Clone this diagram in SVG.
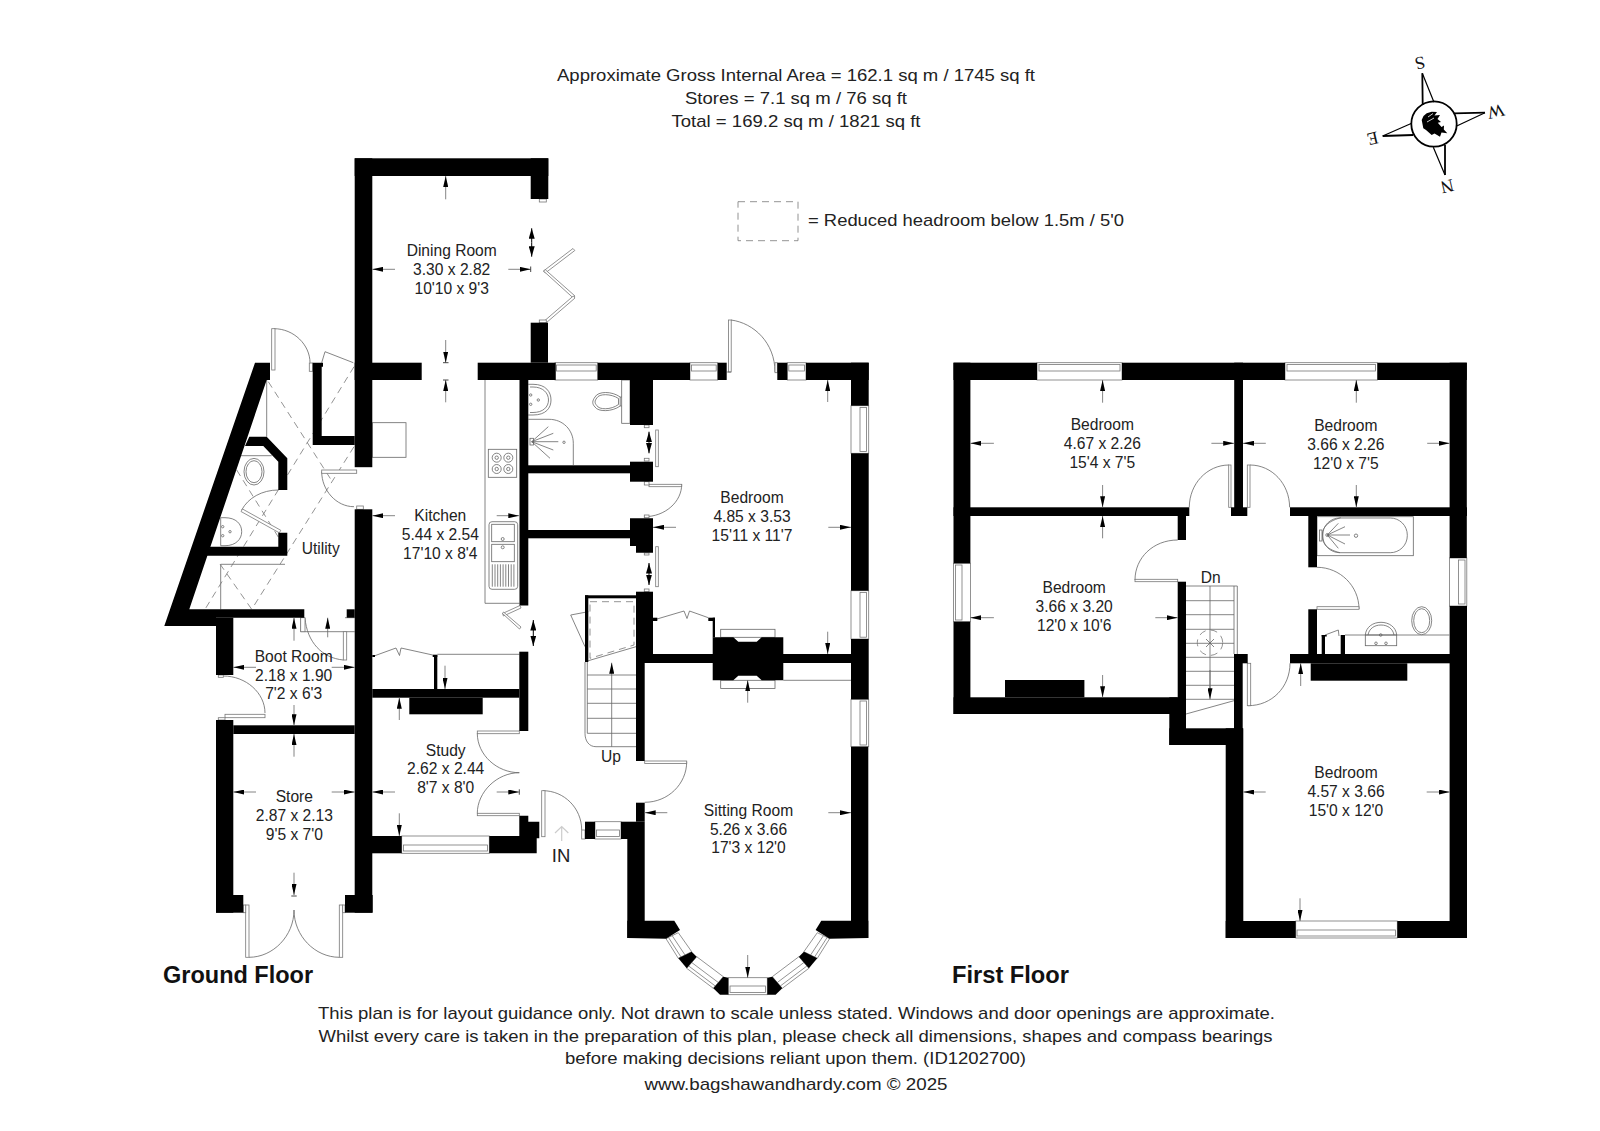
<svg xmlns="http://www.w3.org/2000/svg" width="1600" height="1131" viewBox="0 0 1600 1131">
<style>
text{font-family:"Liberation Sans",Arial,sans-serif;fill:#222}
.r{font-size:15.6px;text-anchor:middle}
.h{font-size:17px;text-anchor:middle}
.b{font-size:23.5px;font-weight:bold;fill:#111}
.c{font-family:"Liberation Serif",serif;font-size:18px;text-anchor:middle;fill:#111}
.w rect,.w polygon{fill:#000}
.t{fill:none;stroke:#666;stroke-width:.8}
.win rect,.win polygon{fill:#fff;stroke:#777;stroke-width:.8}
.win line{stroke:#777;stroke-width:.8}
.leaf{fill:#fff;stroke:#777;stroke-width:.8}
.d{fill:none;stroke:#777;stroke-width:.8;stroke-dasharray:7 5}
.dim line{stroke:#666;stroke-width:.8;marker-end:url(#a)}
.dbl line{stroke:#000;stroke-width:1;marker-end:url(#b)}
</style>
<defs>
<marker id="a" markerUnits="userSpaceOnUse" markerWidth="11" markerHeight="5" refX="11" refY="2.5" orient="auto"><path d="M0,0L11,2.5L0,5z" fill="#000"/></marker>
<marker id="b" markerUnits="userSpaceOnUse" markerWidth="10.5" markerHeight="6" refX="10.5" refY="3" orient="auto"><path d="M0,0L10.5,3L0,6z" fill="#000"/></marker>
</defs>

<g id="heading">
<text class="h" x="796" y="81" textLength="478" lengthAdjust="spacingAndGlyphs">Approximate Gross Internal Area = 162.1 sq m / 1745 sq ft</text>
<text class="h" x="796" y="104" textLength="222" lengthAdjust="spacingAndGlyphs">Stores = 7.1 sq m / 76 sq ft</text>
<text class="h" x="796" y="126.7" textLength="249" lengthAdjust="spacingAndGlyphs">Total = 169.2 sq m / 1821 sq ft</text>
</g>

<g id="legend">
<rect class="d" x="738" y="201.7" width="60" height="39" stroke-dasharray="6 4"/>
<text x="808" y="226" font-size="17" textLength="316" lengthAdjust="spacingAndGlyphs">= Reduced headroom below 1.5m / 5'0</text>
</g>

<g id="compass">
<circle cx="1434" cy="124" r="22.7" fill="#fff" stroke="#000" stroke-width="1.8"/>
<path d="M1431.7,111.7L1437,112L1434.5,115.5L1440,115L1437.5,119L1441,122L1437.8,122.8L1441.5,127L1444,125.5L1443.8,129.5L1447.3,133.3L1441.5,132.5L1440,136.7L1434.5,133.5L1431.7,135L1426,130L1423.3,128.3L1421.7,120L1423.5,116L1426.7,113.3z" fill="#000"/>
<path d="M1428,117L1433,113.5M1427,122L1434,118" stroke="#fff" stroke-width=".8" fill="none"/>
<g fill="none" stroke="#000">
<path stroke-width="1.8" d="M1422.3,73.3L1422.7,105M1485,112.7L1454,113.3M1445,175L1445,145M1382.7,136L1413.3,135"/>
<path stroke-width="1.2" d="M1422.3,73.3L1434,102.3M1485,112.7L1456.7,126M1445,175L1433.3,147.3M1382.7,136L1411.7,123.3"/>
</g>
<text class="c" transform="translate(1420,63.3) rotate(167)" dy=".35em">S</text>
<text class="c" transform="translate(1496,111.7) rotate(167)" dy=".35em">W</text>
<text class="c" transform="translate(1447.3,186.7) rotate(167)" dy=".35em">N</text>
<text class="c" transform="translate(1372.7,139) rotate(167)" dy=".35em">E</text>
</g>

<g id="ground-floor">
<g id="gf-lines" class="t">
<path d="M266.7,380V436.7"/>
<rect x="372.3" y="422.7" width="33.7" height="34.6"/>
<path d="M485,380V603.3H519.5"/>
<path d="M220.7,609.3V564.3H285"/>
<path d="M300.7,617.7V631.7H354.7M345,617.7H354.7"/>
<path d="M437.3,654.3H519.5"/>
<path d="M783.3,680.3H851"/>
<rect x="720.7" y="629.3" width="54.3" height="8"/>
<rect x="720.7" y="680.3" width="54.3" height="8.3"/>
</g>

<g id="gf-fixtures" class="t">
<rect x="488.3" y="449.3" width="28.4" height="28"/>
<circle cx="496.7" cy="457.7" r="4.5"/><circle cx="508.3" cy="457.7" r="4.5"/><circle cx="496.7" cy="469" r="4.5"/><circle cx="508.3" cy="469" r="4.5"/>
<circle cx="496.7" cy="457.7" r="1.7"/><circle cx="508.3" cy="457.7" r="1.7"/><circle cx="496.7" cy="469" r="1.7"/><circle cx="508.3" cy="469" r="1.7"/>
<rect x="489" y="521.7" width="28.7" height="67.6" rx="3"/>
<rect x="491.7" y="524.3" width="22.6" height="17.4"/>
<rect x="491.7" y="544.3" width="22.6" height="17.4"/>
<circle cx="502.7" cy="539" r="1.5"/><circle cx="502.7" cy="547.3" r="1.5"/>
<path d="M492.3,564.3V586.7M495,564.3V586.7M497.7,564.3V586.7M500.4,564.3V586.7M503.1,564.3V586.7M505.8,564.3V586.7M508.5,564.3V586.7M511.2,564.3V586.7M513.9,564.3V586.7"/>
<path d="M528.3,384.3H533C546,384.3 551,392 551,400C551,408 546,415 533,415H528.3"/>
<path d="M530,387H533C543,387 548.5,393 548.5,400C548.5,407 543,412.5 533,412.5H530"/>
<circle cx="530.7" cy="395" r="1.2"/><circle cx="530.7" cy="404.3" r="1.2"/><circle cx="538.3" cy="400" r="1.2"/>
<path d="M528.3,419.3H549C563,419.3 573.3,430 573.3,443.3V465"/>
<rect x="530" y="438.3" width="3.4" height="6.7"/>
<path d="M531.7,441.7L548.3,426.7M531.7,441.7L553.3,433.3M531.7,441.7L558.3,441.7M531.7,441.7L553.3,450M531.7,441.7L550,458.3"/>
<circle cx="564" cy="442.3" r="1.2"/>
<path d="M620.2,397C612,391 598,391 595,397C592,401 592,404 595,407C598,412 612,412 620.2,406z"/>
<path d="M618.5,398.5C611,393.5 599,393.5 596.8,398C594.5,401 594.5,403 596.8,405.5C599,410 611,410 618.5,404.5z"/>
<path d="M620.2,397H621.7M620.2,406H621.7"/>
<rect x="621.7" y="380" width="8.3" height="43.3"/>
<ellipse cx="254" cy="471.7" rx="10" ry="13.3"/>
<ellipse cx="254" cy="471.7" rx="8" ry="11"/>
<path d="M240,455.7H271.7"/>
<path d="M220.7,517.7H225C236,517.7 241.7,524 241.7,531.7C241.7,539 236,545.7 225,545.7H220.7V517.7"/>
<circle cx="222.7" cy="526.7" r="1.2"/><circle cx="222.7" cy="535.7" r="1.2"/><circle cx="230" cy="531.7" r="1.2"/>
<path d="M587.3,662V733.3H636M585,662V733.3C585,741 589,746.7 596,746.7H636M587.3,675H636M587.3,689H636M587.3,703.3H636M587.3,718.3H636"/>
<path d="M585,661.7L636,646.7M588.3,611.7L570.7,615L585,646.7"/>
<path d="M374,656L396,648L399.5,655.5L401,648L432.7,655"/>
<path d="M657,619L684,611L687,618.5L689.5,611L708.3,617.7"/>
</g>

<g id="gf-dashed">
<path class="d" d="M268.3,381.7L333,482.7M354,366.7L205,609.3M354,446.7L251.7,609.3M236.7,470L278.3,537M220,564L251.7,609.3"/>
<path class="d" d="M590,601.7H634V645L590,658.3z"/>
</g>

<g id="gf-doors">
<path class="t" d="M274,328.7C294,328.7 310,345 310,362.7"/>
<path class="t" d="M325,351.7L321.7,362.7M325,351.7L353.3,362.7"/>
<path class="t" d="M321.7,471.7C321.7,490 336,506.7 354,506.7"/>
<path class="t" d="M278.3,490C262,490 248,498 241.7,510"/>
<path class="t" d="M305,618C307,642 322,658 343.3,660"/>
<path class="t" d="M223.3,676C246,676 265,693 265,713"/>
<path class="t" d="M249,957.3C273,957.3 294,936 294,910C294,936 315,957.3 339.3,957.3"/>
<path class="t" d="M477.3,733.3C477.3,755 497,772.7 519.3,772.7C497,772.7 477.3,792 477.3,813.3"/>
<path class="t" d="M543,790.7C564,790.7 581.7,808 581.7,830"/>
<path class="t" d="M686.7,761.7C686.7,784 668,802.3 644.7,802.3"/>
<path class="t" d="M681.7,484.3C681.7,502 665,516.7 644.3,516.7"/>
<rect class="leaf" x="271.7" y="328.7" width="3.3" height="41.3"/>
<rect class="leaf" x="309.3" y="363" width="3.4" height="8.3"/>
<rect class="leaf" x="321.7" y="470" width="35" height="3.3"/>
<rect class="leaf" x="356.7" y="506" width="6.6" height="3.3"/>
<polygon class="leaf" points="241,511.5 242.5,509 280.8,530.3 279.3,532.8"/>
<rect class="leaf" x="300.7" y="617.7" width="4.3" height="14"/>
<rect class="leaf" x="343.3" y="631.7" width="3.4" height="28.3"/>
<rect class="leaf" x="218.3" y="675" width="5" height="2.3"/>
<rect class="leaf" x="225" y="714.3" width="40" height="3.4"/>
<rect class="leaf" x="218.3" y="717.7" width="6.7" height="2.3"/>
<rect class="leaf" x="245.7" y="905" width="3.3" height="52.3"/>
<rect class="leaf" x="243.3" y="905" width="2.4" height="7.7"/>
<rect class="leaf" x="339.3" y="905" width="3.4" height="52.3"/>
<rect class="leaf" x="342.7" y="905" width="2.3" height="7.7"/>
<rect class="leaf" x="477.3" y="731" width="42" height="2.7"/>
<rect class="leaf" x="477.3" y="813.3" width="42" height="2.4"/>
<rect class="leaf" x="541.7" y="790.7" width="3.3" height="46"/>
<rect class="leaf" x="581.7" y="830" width="3.3" height="9"/>
<rect class="leaf" x="644.7" y="761" width="42" height="2.4"/>
<rect class="leaf" x="649" y="484.3" width="32.7" height="2.4"/>
<rect class="leaf" x="655.7" y="430" width="2.6" height="36.7"/>
<rect class="leaf" x="655.7" y="546.7" width="2.6" height="40"/>
<rect class="leaf" x="644.3" y="425" width="4.7" height="2.7"/>
<rect class="leaf" x="644.3" y="458.3" width="4.7" height="2.7"/>
<rect class="leaf" x="644.3" y="481.7" width="4.7" height="3.3"/>
<rect class="leaf" x="644.3" y="515" width="4.7" height="2.7"/>
<rect class="leaf" x="644.3" y="553" width="4.7" height="2"/>
<rect class="leaf" x="644.3" y="589" width="4.7" height="2.7"/>
<rect class="leaf" x="728.5" y="320" width="2.7" height="52"/>
<path class="t" d="M731,320C754,323 775,343 775,372M726.7,372H731"/>
<rect class="leaf" x="775" y="362.7" width="2.3" height="10"/>
<polygon class="leaf" points="573,248.5 574.8,250.5 545.3,273 543.5,271"/>
<polygon class="leaf" points="543.5,271 545.3,269.7 575,296 573.3,298"/>
<polygon class="leaf" points="573.3,296 575,298 546,323 544.3,321"/>
<rect class="leaf" x="539.3" y="199" width="7" height="3"/>
<rect class="leaf" x="539.3" y="320" width="7" height="2.7"/>
<polygon class="leaf" points="520,605.5 521,608 503.5,616 502.5,613.5"/>
<polygon class="leaf" points="502.5,613.5 503.5,612 521,627 519.5,629"/>
</g>

<g id="gf-windows" class="win">
<rect x="555" y="362.7" width="42.7" height="17.3"/><rect x="556.5" y="365" width="39.7" height="6"/>
<rect x="690" y="362.7" width="27.7" height="17.3"/><rect x="691.5" y="365" width="24.7" height="6"/>
<rect x="787.3" y="362.7" width="18.7" height="17.3"/><rect x="788.8" y="365" width="15.7" height="6"/>
<rect x="851" y="405.7" width="17.7" height="47.6"/><rect x="860" y="407.5" width="6.5" height="44"/>
<rect x="851" y="590.7" width="17.7" height="48.3"/><rect x="860" y="592.5" width="6.5" height="44.7"/>
<rect x="851" y="699.3" width="17.7" height="47.4"/><rect x="860" y="701" width="6.5" height="44"/>
<rect x="401.7" y="836" width="87.6" height="17.3"/><rect x="403.5" y="845" width="84" height="6"/>
<rect x="595" y="821.7" width="26" height="17.3"/><rect x="596.5" y="830" width="23" height="6.5"/>
<rect x="728.3" y="977.7" width="39" height="17"/><rect x="730" y="986" width="35.6" height="6.5"/>
<g id="bay-windows-left">
<polygon points="666,938.7 678.3,932.7 691.7,951.7 678.3,958.3"/>
<line x1="668.5" y1="937.5" x2="681" y2="957"/><line x1="672.2" y1="935.7" x2="685" y2="955"/>
<polygon points="686.7,968.3 696.7,956.7 723.3,976.7 713.3,988.3"/>
<line x1="688.7" y1="966" x2="715.3" y2="986"/><line x1="691.7" y1="962.5" x2="718.3" y2="982.5"/>
</g>
<g id="bay-windows-right" transform="matrix(-1 0 0 1 1495.6 0)">
<polygon points="666,938.7 678.3,932.7 691.7,951.7 678.3,958.3"/>
<line x1="668.5" y1="937.5" x2="681" y2="957"/><line x1="672.2" y1="935.7" x2="685" y2="955"/>
<polygon points="686.7,968.3 696.7,956.7 723.3,976.7 713.3,988.3"/>
<line x1="688.7" y1="966" x2="715.3" y2="986"/><line x1="691.7" y1="962.5" x2="718.3" y2="982.5"/>
</g>
</g>

<g id="gf-walls" class="w">
<rect x="354.7" y="158.3" width="17.6" height="308.9"/>
<rect x="354.7" y="158.3" width="193.6" height="17.7"/>
<rect x="530.7" y="158.3" width="17.6" height="40.7"/>
<rect x="530.7" y="322.7" width="17.3" height="40"/>
<rect x="354.7" y="362.7" width="67" height="17.3"/>
<rect x="477.7" y="362.7" width="78" height="17.3"/>
<rect x="597.7" y="362.7" width="92.3" height="17.3"/>
<rect x="717.7" y="362.7" width="9" height="17.3"/>
<rect x="777.3" y="362.7" width="10" height="17.3"/>
<rect x="806" y="362.7" width="62.7" height="17.3"/>
<rect x="851" y="362.7" width="17.7" height="43"/>
<rect x="851" y="453.3" width="17.7" height="137.4"/>
<rect x="851" y="639" width="17.7" height="60.3"/>
<rect x="851" y="746.7" width="17.3" height="191.3"/>
<rect x="519.5" y="380" width="8.8" height="225.5"/>
<rect x="630" y="380" width="23" height="45"/>
<rect x="528" y="465.3" width="102" height="8"/>
<rect x="630" y="461.7" width="23" height="20"/>
<rect x="528" y="530" width="102" height="8.3"/>
<polygon points="630,518.3 653,518.3 653,552.7 636,552.7 636,546 630,546"/>
<rect x="636" y="591.7" width="17" height="71.3"/>
<rect x="636" y="663" width="8.7" height="98"/>
<rect x="636" y="654" width="215" height="9"/>
<polygon points="712.7,637.3 733.3,637.3 738.3,641.7 756.7,641.7 761.7,637.3 783.3,637.3 783.3,680.3 761.7,680.3 756.7,675.7 738.3,675.7 733.3,680.3 712.7,680.3"/>
<rect x="653" y="617.7" width="4.3" height="3.3"/>
<rect x="708.3" y="617.7" width="6.7" height="3.3"/>
<rect x="712.7" y="617.7" width="2.3" height="19.7"/>
<rect x="354.7" y="509.3" width="17.6" height="403.4"/>
<rect x="636" y="802.7" width="8.7" height="19"/>
<rect x="621" y="821.7" width="23.7" height="17.3"/>
<rect x="627.3" y="839" width="17.4" height="99"/>
<rect x="585" y="821.7" width="10" height="17.3"/>
<polygon points="644.7,920.7 674.3,920.7 680,930 666,938.7 627.3,938 627.3,920.7"/>
<polygon points="851,920.7 821.3,920.7 815.6,930 829.6,938.7 868.3,938 868.3,920.7"/>
<polygon points="678.3,958.3 691.7,951.7 696.7,956.7 686.7,968.3"/>
<polygon points="817.3,958.3 803.9,951.7 798.9,956.7 808.9,968.3"/>
<polygon points="723.3,976.7 728.3,977.7 728.3,994.7 720,994.7 713.3,988.3"/>
<polygon points="772.3,976.7 767.3,977.7 767.3,994.7 775.6,994.7 782.3,988.3"/>
<rect x="519.3" y="651.7" width="9" height="79.3"/>
<rect x="372.3" y="689" width="147" height="8.7"/>
<rect x="409.3" y="697.7" width="73.4" height="16.6"/>
<rect x="434" y="655" width="3.3" height="34"/>
<rect x="372.3" y="655" width="2.7" height="2"/>
<rect x="432.7" y="654.7" width="4.6" height="2.3"/>
<rect x="356.7" y="836" width="45" height="17.3"/>
<polygon points="489.3,836 519.3,836 519.3,815.7 528.3,815.7 528.3,821.7 539.3,821.7 539.3,838.3 536.7,838.3 536.7,853.3 489.3,853.3"/>
<rect x="216" y="720" width="17.3" height="192.7"/>
<rect x="216" y="895" width="27.3" height="17.7"/>
<rect x="345" y="895" width="27.7" height="17.7"/>
<rect x="233.3" y="725.3" width="121.4" height="8.7"/>
<rect x="216" y="617.7" width="17.3" height="57.3"/>
<rect x="346.7" y="609.3" width="8" height="8.4"/>
<polygon points="255,362.7 270,362.7 270,380 266.7,380 189.3,609.3 304.3,609.3 304.3,617.7 216,617.7 216,626 164.3,626"/>
<polygon points="210,546.7 278.3,546.7 278.3,532.7 287.3,532.7 287.3,555.7 205,555.7"/>
<polygon points="249.3,436.7 266.7,436.7 287.3,458.3 287.3,490 278.3,490 278.3,461.7 263.3,446 245,446"/>
<polygon points="312.7,362.7 323,362.7 323,366.7 321.7,366.7 321.7,436 354.7,436 354.7,445 312.7,445"/>
<rect x="585" y="595.3" width="51" height="3"/>
<rect x="585" y="595.3" width="3.3" height="66.7"/>
</g>
</g>

<g id="first-floor">
<g id="ff-windows" class="win">
<rect x="1037" y="362.7" width="85" height="17.3"/><rect x="1039" y="364.5" width="81" height="6.5"/>
<rect x="1285" y="362.7" width="92.4" height="17.3"/><rect x="1287" y="364.5" width="88.4" height="6.5"/>
<rect x="953.5" y="563.3" width="16.9" height="58.4"/><rect x="955.5" y="565" width="6.5" height="55"/>
<rect x="1449.6" y="558" width="17.2" height="48"/><rect x="1458.5" y="560" width="6.5" height="44"/>
<rect x="1295.7" y="921" width="101.6" height="17"/><rect x="1297" y="930" width="98.6" height="6"/>
</g>
<g id="ff-fixtures" class="t">
<rect x="1317" y="516.7" width="96.3" height="39"/>
<rect x="1322.7" y="518" width="84.6" height="34.7" rx="17"/>
<path d="M1340.7,517.7C1325,522 1322,530 1322.7,535C1322,542 1325,549 1340,552.7"/>
<rect x="1319.5" y="530" width="2.5" height="11"/>
<path d="M1327.3,535L1338.3,523.3M1327.3,535L1345,526.7M1327.3,535L1350,535M1327.3,535L1345,544M1327.3,535L1338.3,548.3"/>
<circle cx="1356" cy="535.7" r="1.7"/><circle cx="1327.3" cy="535" r="1.5"/>
<path d="M1345,635H1449.3"/>
<rect x="1365.3" y="635" width="31.4" height="10.7"/>
<path d="M1365.3,635C1366,627 1373,622.3 1381,622.3C1389,622.3 1396,627 1396.7,635"/>
<path d="M1368,635C1369,629 1374,625 1381,625C1388,625 1393,629 1394,635"/>
<circle cx="1380.7" cy="635" r="1.3"/><circle cx="1376" cy="643.3" r="1.3"/><circle cx="1386" cy="643.3" r="1.3"/>
<ellipse cx="1421.7" cy="620.7" rx="10" ry="14" fill="#fff"/>
<ellipse cx="1421.7" cy="620.7" rx="8" ry="12"/>
<path d="M1325,635L1338.3,630L1339,636"/>
<path d="M1186,586H1237.3V654M1234,586V654"/>
<path d="M1186,600.7H1234M1186,614.7H1234M1186,629.3H1234M1186,643.3H1234M1186,657.3H1234M1186,671.3H1234M1186,685.3H1234M1186,699.3H1234M1186,714L1234,700.7"/>
<path d="M1210,586V690"/>
<circle class="d" cx="1210" cy="642.7" r="12.7" stroke-dasharray="5 3"/>
<path d="M1206,639L1214,647M1214,639L1206,647"/>
</g>
<g id="ff-doors">
<path class="t" d="M1229,465C1207,465 1189.3,484 1189.3,507.3"/>
<path class="t" d="M1250,465C1272,465 1289.6,484 1289.6,507.3"/>
<path class="t" d="M1177.7,540C1153,540 1135,558 1135,580"/>
<path class="t" d="M1317,567.3C1340,567.3 1359,586 1359,609"/>
<path class="t" d="M1248,705.7C1272,705.7 1290,687 1290,663.3"/>
<rect class="leaf" x="1228.7" y="465" width="2.3" height="42.3"/>
<rect class="leaf" x="1247.3" y="465" width="2.7" height="42.3"/>
<rect class="leaf" x="1135" y="579.3" width="42.7" height="2.4"/>
<rect class="leaf" x="1317" y="606.7" width="42" height="2.6"/>
<rect class="leaf" x="1247.3" y="663.3" width="3.4" height="42.4"/>
</g>
<g id="ff-walls" class="w">
<rect x="953.5" y="362.7" width="83.5" height="17.3"/>
<rect x="1122" y="362.7" width="163" height="17.3"/>
<rect x="1377.4" y="362.7" width="89.4" height="17.3"/>
<rect x="953.5" y="362.7" width="16.9" height="200.6"/>
<rect x="953.5" y="621.7" width="16.9" height="92.3"/>
<rect x="1449.6" y="362.7" width="17.2" height="195.3"/>
<rect x="1449.6" y="606" width="17.4" height="332"/>
<rect x="953.5" y="507.3" width="235.8" height="8.7"/>
<rect x="1177.7" y="516" width="8.3" height="24"/>
<rect x="1234.2" y="362.7" width="8.8" height="153.3"/>
<rect x="1231" y="507.3" width="16.3" height="8.7"/>
<rect x="1290" y="507.3" width="177" height="8.7"/>
<rect x="1308.3" y="516" width="8.7" height="51.3"/>
<rect x="1308.3" y="609.3" width="8.7" height="44.7"/>
<rect x="1290" y="654" width="177" height="9.3"/>
<rect x="1310.7" y="663.3" width="96.6" height="17.4"/>
<rect x="1321.7" y="635" width="3.3" height="19"/>
<rect x="1340.7" y="635" width="4.3" height="19"/>
<rect x="1321.7" y="635" width="5" height="1.5"/>
<rect x="1177.7" y="581.7" width="8.3" height="146.6"/>
<rect x="953.5" y="697.3" width="224.2" height="16.7"/>
<rect x="1005" y="680" width="79.4" height="17.3"/>
<rect x="1169.3" y="697.3" width="16.7" height="47.7"/>
<rect x="1169.3" y="728.3" width="73.7" height="16.7"/>
<rect x="1234" y="654" width="8.7" height="91"/>
<rect x="1234" y="654" width="13.7" height="9.3"/>
<rect x="1225.7" y="728.3" width="17.6" height="209.7"/>
<rect x="1225.7" y="921" width="70" height="17"/>
<rect x="1397.3" y="921" width="69.7" height="17"/>
</g>
</g>

<g id="connectors">
<g class="dim">
<line x1="445.7" y1="199.3" x2="445.7" y2="176"/>
<line x1="395" y1="269.3" x2="372.3" y2="269.3"/>
<line x1="508.3" y1="269.3" x2="530.7" y2="269.3"/>
<line x1="445.7" y1="340" x2="445.7" y2="362.7"/>
<line x1="445.7" y1="402.3" x2="445.7" y2="380"/>
<line x1="395" y1="515.7" x2="372.3" y2="515.7"/>
<line x1="496.7" y1="515.7" x2="519.3" y2="515.7"/>
<line x1="676" y1="527.3" x2="653" y2="527.3"/>
<line x1="828.3" y1="527.3" x2="851" y2="527.3"/>
<line x1="827.7" y1="402" x2="827.7" y2="380"/>
<line x1="827.7" y1="631.7" x2="827.7" y2="654"/>
<line x1="294" y1="640.7" x2="294" y2="617.7"/>
<line x1="327.7" y1="637.3" x2="327.7" y2="617.7"/>
<line x1="256" y1="667.3" x2="233.3" y2="667.3"/>
<line x1="331.7" y1="667.3" x2="354.7" y2="667.3"/>
<line x1="294" y1="705" x2="294" y2="725.3"/>
<line x1="294" y1="756.7" x2="294" y2="734"/>
<line x1="256" y1="792" x2="233.3" y2="792"/>
<line x1="331.7" y1="792" x2="354.7" y2="792"/>
<line x1="294" y1="872.7" x2="294" y2="895"/>
<line x1="445" y1="665.7" x2="445" y2="689"/>
<line x1="399.3" y1="720" x2="399.3" y2="697.7"/>
<line x1="395" y1="792" x2="372.3" y2="792"/>
<line x1="496.7" y1="792" x2="519.3" y2="792"/>
<line x1="399.3" y1="813.3" x2="399.3" y2="836"/>
<line x1="667.3" y1="812.7" x2="644.7" y2="812.7"/>
<line x1="828.3" y1="812.7" x2="851" y2="812.7"/>
<line x1="747.7" y1="955" x2="747.7" y2="977.7"/>
<line x1="747.7" y1="702.7" x2="747.7" y2="680.3"/>
<line x1="611.7" y1="746.7" x2="611.7" y2="662.7"/>
<line x1="1102.6" y1="402.7" x2="1102.6" y2="380"/>
<line x1="993.9" y1="443.3" x2="970.4" y2="443.3"/>
<line x1="1211.4" y1="443.3" x2="1234.2" y2="443.3"/>
<line x1="1102.6" y1="485" x2="1102.6" y2="507.3"/>
<line x1="1356.3" y1="402.7" x2="1356.3" y2="380"/>
<line x1="1265.8" y1="443.3" x2="1243" y2="443.3"/>
<line x1="1427.2" y1="443.3" x2="1449.6" y2="443.3"/>
<line x1="1356.3" y1="485" x2="1356.3" y2="507.3"/>
<line x1="1102.6" y1="538.3" x2="1102.6" y2="516"/>
<line x1="993.9" y1="617.7" x2="970.4" y2="617.7"/>
<line x1="1155.3" y1="617.7" x2="1177.7" y2="617.7"/>
<line x1="1102.6" y1="675" x2="1102.6" y2="697.3"/>
<line x1="1265.7" y1="792" x2="1243.3" y2="792"/>
<line x1="1426.7" y1="792" x2="1449.7" y2="792"/>
<line x1="1300" y1="898.3" x2="1300" y2="921"/>
<line x1="1300.7" y1="686" x2="1300.7" y2="663.3"/>
<line x1="1210" y1="670" x2="1210" y2="699.3"/>
</g>
<path id="dim-ticks" d="M443,362.7H448.5M443,380H448.5M530.7,266.5V272M291.3,896H296.7M519.3,789.3V794.7" stroke="#333" stroke-width=".9" fill="none"/>
<g class="dbl">
<line x1="531.7" y1="242.5" x2="531.7" y2="228.3"/>
<line x1="531.7" y1="242.5" x2="531.7" y2="256.7"/>
<line x1="649" y1="442.5" x2="649" y2="431.7"/>
<line x1="649" y1="442.5" x2="649" y2="453.3"/>
<line x1="649" y1="574" x2="649" y2="563"/>
<line x1="649" y1="574" x2="649" y2="585"/>
<line x1="533.3" y1="633" x2="533.3" y2="620"/>
<line x1="533.3" y1="633" x2="533.3" y2="646"/>
</g>
<g id="entrance-arrow" fill="none" stroke="#ccc" stroke-width="1.2">
<path d="M561.7,841V827M555,833L561.7,826.5L568.3,833"/>
</g>
</g>

<g id="labels">
<g class="r">
<text x="451.7" y="256">Dining Room</text><text x="451.7" y="275">3.30 x 2.82</text><text x="451.7" y="293.7">10'10 x 9'3</text>
<text x="440.3" y="521">Kitchen</text><text x="440.3" y="540">5.44 x 2.54</text><text x="440.3" y="559">17'10 x 8'4</text>
<text x="320.7" y="554.3">Utility</text>
<text x="293.7" y="661.7">Boot Room</text><text x="293.7" y="680.7">2.18 x 1.90</text><text x="293.7" y="699.3">7'2 x 6'3</text>
<text x="294.3" y="802.3">Store</text><text x="294.3" y="821">2.87 x 2.13</text><text x="294.3" y="840.3">9'5 x 7'0</text>
<text x="445.7" y="755.7">Study</text><text x="445.7" y="774">2.62 x 2.44</text><text x="445.7" y="793.3">8'7 x 8'0</text>
<text x="752" y="503.3">Bedroom</text><text x="752" y="522.3">4.85 x 3.53</text><text x="752" y="541.3">15'11 x 11'7</text>
<text x="748.5" y="815.7">Sitting Room</text><text x="748.5" y="834.7">5.26 x 3.66</text><text x="748.5" y="853.3">17'3 x 12'0</text>
<text x="611" y="761.5">Up</text>
<text x="1102.3" y="430">Bedroom</text><text x="1102.3" y="449">4.67 x 2.26</text><text x="1102.3" y="468">15'4 x 7'5</text>
<text x="1345.8" y="430.7">Bedroom</text><text x="1345.8" y="449.7">3.66 x 2.26</text><text x="1345.8" y="468.7">12'0 x 7'5</text>
<text x="1074.2" y="593.3">Bedroom</text><text x="1074.2" y="612.3">3.66 x 3.20</text><text x="1074.2" y="631.3">12'0 x 10'6</text>
<text x="1346" y="778.3">Bedroom</text><text x="1346" y="797">4.57 x 3.66</text><text x="1346" y="816">15'0 x 12'0</text>
<text x="1210.7" y="583.3">Dn</text>
</g>
<text x="561" y="861.7" font-size="18.5" text-anchor="middle">IN</text>
<text class="b" x="163" y="982.7">Ground Floor</text>
<text class="b" x="952" y="983.3" textLength="117" lengthAdjust="spacingAndGlyphs">First Floor</text>
</g>

<g id="footer">
<text class="h" x="796.5" y="1019.3" textLength="957" lengthAdjust="spacingAndGlyphs">This plan is for layout guidance only. Not drawn to scale unless stated. Windows and door openings are approximate.</text>
<text class="h" x="795.5" y="1041.7" textLength="954" lengthAdjust="spacingAndGlyphs">Whilst every care is taken in the preparation of this plan, please check all dimensions, shapes and compass bearings</text>
<text class="h" x="795.5" y="1064.3" textLength="461" lengthAdjust="spacingAndGlyphs">before making decisions reliant upon them. (ID1202700)</text>
<text class="h" x="796" y="1090" textLength="303" lengthAdjust="spacingAndGlyphs">www.bagshawandhardy.com © 2025</text>
</g>
</svg>
